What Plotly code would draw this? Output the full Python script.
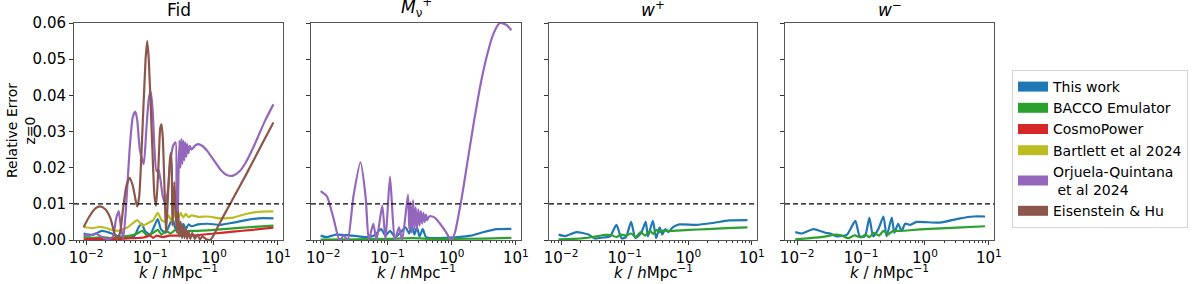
import plotly.graph_objects as go

# ---------------- data (log10 k, relative error) ----------------
PANEL_TITLES = ["Fid", "<i>M</i><sub>ν</sub><sup>+</sup>", "<i>w</i><sup>+</sup>", "<i>w</i><sup>−</sup>"]
SERIES_NAMES = ["This work", "BACCO Emulator", "CosmoPower", "Bartlett et al 2024",
                "Orjuela-Quintana<br> et al 2024", "Eisenstein & Hu"]
SERIES_COLORS = ["#1f77b4", "#2ca02c", "#d62728", "#bcbd22", "#9467bd", "#8c564b"]
THRESHOLD = 0.01
X_TITLE = "<i>k</i> / <i>h</i>Mpc<sup>−1</sup>"
Y_TITLE = "Relative Error<br>z=0"

# Panel 1: Fid
FID_THIS_LOGK = [-2.04, -1.9, -1.75, -1.6, -1.5, -1.4, -1.3, -1.25, -1.18, -1.13, -1.08, -1.0, -0.93, -0.88, -0.83,
                 -0.76, -0.7, -0.65, -0.6, -0.56, -0.52, -0.48, -0.44, -0.4, -0.35, -0.25, -0.1, 0.1, 0.3, 0.5, 0.7, 0.93]
FID_THIS = [0.0018, 0.0014, 0.0025, 0.0018, 0.001, 0.0008, 0.0012, 0.001, 0.0035, 0.0045, 0.0025, 0.0015, 0.004, 0.0058,
            0.003, 0.002, 0.004, 0.006, 0.003, 0.005, 0.0028, 0.0045, 0.003, 0.0043, 0.0038, 0.0043, 0.0045, 0.0042,
            0.0048, 0.0055, 0.006, 0.006]
FID_BACCO_LOGK = [-2.04, -1.9, -1.75, -1.6, -1.5, -1.4, -1.3, -1.2, -1.12, -1.05, -0.95, -0.88, -0.82, -0.75, -0.68,
                  -0.6, -0.55, -0.5, -0.45, -0.4, -0.3, 0.0, 0.3, 0.6, 0.93]
FID_BACCO = [0.0008, 0.0006, 0.0008, 0.0005, 0.0007, 0.001, 0.0012, 0.0018, 0.0025, 0.0013, 0.002, 0.0028, 0.0015,
             0.0025, 0.0018, 0.0028, 0.0018, 0.0027, 0.002, 0.0025, 0.0025, 0.0028, 0.0032, 0.0036, 0.004]
FID_COSMOPOWER_LOGK = [-2.04, -1.8, -1.5, -1.3, -1.1, -1.0, -0.95, -0.9, -0.8, -0.7, -0.5, -0.3, 0.0, 0.3, 0.6, 0.93]
FID_COSMOPOWER = [0.0002, 0.0003, 0.0003, 0.0005, 0.0007, 0.0012, 0.0006, 0.0012, 0.0008, 0.0012, 0.0012, 0.0013,
                  0.0018, 0.0023, 0.0028, 0.0034]
FID_BARTLETT_LOGK = [-2.04, -1.9, -1.8, -1.7, -1.6, -1.5, -1.42, -1.35, -1.28, -1.2, -1.12, -1.05, -0.95, -0.88, -0.82,
                     -0.76, -0.71, -0.66, -0.6, -0.56, -0.52, -0.48, -0.44, -0.4, -0.35, -0.25, -0.1, 0.1, 0.3, 0.5,
                     0.7, 0.93]
FID_BARTLETT = [0.0036, 0.0033, 0.0036, 0.0034, 0.0028, 0.0025, 0.003, 0.0035, 0.0045, 0.0055, 0.004, 0.0045, 0.0055,
                0.0075, 0.0055, 0.005, 0.0068, 0.005, 0.008, 0.006, 0.0075, 0.0062, 0.0072, 0.0063, 0.0068, 0.0064,
                0.0065, 0.006, 0.0062, 0.0072, 0.0078, 0.0079]
FID_ORJUELA_LOGK = [-2.04, -1.95, -1.85, -1.75, -1.65, -1.58, -1.53, -1.49, -1.46, -1.42, -1.38, -1.32, -1.27, -1.23,
                    -1.2, -1.16, -1.1, -1.06, -1.02, -0.99, -0.96, -0.93, -0.9, -0.87, -0.84, -0.8, -0.76, -0.72,
                    -0.68, -0.64, -0.6, -0.585, -0.57, -0.555, -0.54, -0.525, -0.51, -0.495, -0.48, -0.465, -0.45,
                    -0.435, -0.42, -0.4, -0.38, -0.35, -0.3, -0.25, -0.18, -0.1, 0.0, 0.1, 0.2, 0.3, 0.4, 0.5, 0.6,
                    0.7, 0.8, 0.93]
FID_ORJUELA = [0.0015, 0.0012, 0.0018, 0.0008, 0.0002, 0.001, 0.006, 0.008, 0.004, 0.0005, 0.008, 0.025, 0.034,
               0.0355, 0.033, 0.025, 0.021, 0.03, 0.039, 0.041, 0.036, 0.025, 0.019, 0.0195, 0.017, 0.012, 0.01,
               0.014, 0.022, 0.026, 0.027, 0.015, 0.003, 0.018, 0.0275, 0.02, 0.028, 0.021, 0.0275, 0.022, 0.027,
               0.023, 0.0265, 0.024, 0.026, 0.025, 0.026, 0.0265, 0.026, 0.0245, 0.022, 0.0195, 0.018, 0.0178,
               0.019, 0.0215, 0.025, 0.029, 0.033, 0.0375]
FID_EH_LOGK = [-2.04, -1.95, -1.85, -1.78, -1.7, -1.62, -1.56, -1.52, -1.47, -1.42, -1.37, -1.32, -1.27, -1.22, -1.2,
               -1.17, -1.12, -1.07, -1.045, -1.02, -0.97, -0.93, -0.905, -0.87, -0.84, -0.82, -0.8, -0.77, -0.75,
               -0.72, -0.69, -0.675, -0.66, -0.65, -0.62, -0.6, -0.58, -0.56, -0.54, -0.52, -0.5, -0.48, -0.46,
               -0.44, -0.42, -0.4, -0.37, -0.34, -0.3, -0.26, -0.22, -0.18, -0.12, -0.06, 0.0, 0.1, 0.25, 0.5, 0.75,
               0.93]
FID_EH = [0.0035, 0.0065, 0.0088, 0.0093, 0.0085, 0.006, 0.002, 0.0002, 0.002, 0.009, 0.015, 0.0172, 0.015, 0.0105,
          0.0093, 0.012, 0.03, 0.05, 0.055, 0.05, 0.028, 0.012, 0.0095, 0.02, 0.031, 0.032, 0.028, 0.012, 0.002,
          0.012, 0.022, 0.024, 0.02, 0.004, 0.016, 0.008, 0.002, 0.008, 0.001, 0.005, 0.0005, 0.004, 0.0005, 0.003,
          0.0003, 0.0025, 0.0003, 0.002, 0.0003, 0.0015, 0.0002, 0.001, 0.0002, 0.0, 0.0015, 0.005, 0.0099, 0.018,
          0.0265, 0.0325]

# Panel 2: M_nu+
MNU_THIS_LOGK = [-2.04, -1.95, -1.8, -1.6, -1.45, -1.3, -1.2, -1.1, -1.03, -0.96, -0.88, -0.8, -0.72, -0.66, -0.62,
                 -0.58, -0.54, -0.5, -0.45, -0.4, -0.3, -0.1, 0.1, 0.3, 0.5, 0.7, 0.93]
MNU_THIS = [0.0012, 0.0008, 0.0015, 0.0013, 0.001, 0.0008, 0.0013, 0.003, 0.0012, 0.0025, 0.0008, 0.002, 0.0035,
            0.0018, 0.004, 0.0015, 0.0035, 0.001, 0.003, 0.0008, 0.0005, 0.0006, 0.0008, 0.0012, 0.0022, 0.003,
            0.0031]
MNU_BACCO_LOGK = [-2.04, -1.5, -1.0, -0.6, -0.3, 0.0, 0.5, 0.93]
MNU_BACCO = [0.0001, 0.0002, 0.0003, 0.0005, 0.0003, 0.0003, 0.0004, 0.0006]
MNU_ORJUELA_LOGK = [-2.04, -1.94, -1.84, -1.745, -1.68, -1.62, -1.53, -1.42, -1.34, -1.29, -1.22, -1.17, -1.08,
                    -1.03, -0.96, -0.885, -0.82, -0.77, -0.68, -0.66, -0.64, -0.62, -0.6, -0.58, -0.56, -0.54, -0.52,
                    -0.5, -0.48, -0.46, -0.44, -0.42, -0.4, -0.38, -0.35, -0.3, -0.25, -0.18, -0.1, -0.03, 0.0, 0.05,
                    0.15, 0.25, 0.35, 0.45, 0.55, 0.65, 0.75, 0.85, 0.93]
MNU_ORJUELA = [0.0135, 0.012, 0.006, 0.0, 0.0012, 0.0, 0.012, 0.0215, 0.012, 0.0, 0.0045, 0.0, 0.0095, 0.0, 0.0175,
               0.0, 0.0035, 0.0, 0.0125, 0.003, 0.0105, 0.002, 0.011, 0.003, 0.009, 0.003, 0.0085, 0.004, 0.008,
               0.0045, 0.0075, 0.005, 0.007, 0.0055, 0.0065, 0.0065, 0.006, 0.0045, 0.0025, 0.0005, 0.0, 0.002,
               0.011, 0.022, 0.033, 0.043, 0.051, 0.057, 0.06, 0.0595, 0.058]

# Panel 3: w+
WP_THIS_LOGK = [-2.04, -1.94, -1.755, -1.57, -1.47, -1.34, -1.23, -1.13, -1.05, -0.98, -0.9, -0.83, -0.74, -0.67,
                -0.635, -0.557, -0.505, -0.45, -0.41, -0.36, -0.31, -0.245, -0.14, 0.12, 0.38, 0.64, 0.93]
WP_THIS = [0.0015, 0.0011, 0.0022, 0.0015, 0.0004, 0.0007, 0.001, 0.0042, 0.0005, 0.0008, 0.005, 0.0005, 0.002,
           0.005, 0.001, 0.0053, 0.0005, 0.0035, 0.0015, 0.003, 0.0022, 0.0035, 0.0043, 0.0042, 0.0047, 0.0054,
           0.0055]
WP_BACCO_LOGK = [-2.04, -1.8, -1.6, -1.45, -1.3, -1.2, -1.13, -1.05, -0.98, -0.9, -0.83, -0.75, -0.68, -0.6, -0.55,
                 -0.5, -0.45, -0.4, -0.3, 0.0, 0.3, 0.6, 0.93]
WP_BACCO = [0.0002, 0.0003, 0.0006, 0.001, 0.0014, 0.0013, 0.0008, 0.0015, 0.0012, 0.0018, 0.0008, 0.0022, 0.0012,
            0.0025, 0.0017, 0.0028, 0.0022, 0.0026, 0.0025, 0.0028, 0.003, 0.0033, 0.0035]

# Panel 4: w-
WM_THIS_LOGK = [-2.03, -1.93, -1.745, -1.56, -1.48, -1.38, -1.22, -1.09, -1.02, -0.94, -0.87, -0.81, -0.73, -0.65,
                -0.6, -0.52, -0.48, -0.42, -0.365, -0.31, -0.23, -0.13, 0.23, 0.55, 0.76, 0.94]
WM_THIS = [0.0022, 0.0018, 0.003, 0.002, 0.0018, 0.001, 0.0015, 0.0053, 0.001, 0.001, 0.0061, 0.001, 0.003, 0.0065,
           0.001, 0.0062, 0.002, 0.0045, 0.0025, 0.0045, 0.0042, 0.005, 0.0048, 0.006, 0.0065, 0.0065]
WM_BACCO_LOGK = [-2.03, -1.8, -1.55, -1.4, -1.3, -1.2, -1.1, -1.0, -0.93, -0.87, -0.8, -0.72, -0.65, -0.58, -0.5,
                 -0.4, 0.0, 0.5, 0.94]
WM_BACCO = [0.0002, 0.0005, 0.001, 0.0015, 0.0012, 0.0005, 0.0013, 0.0007, 0.0015, 0.0008, 0.002, 0.0012, 0.0025,
            0.0015, 0.0025, 0.0025, 0.003, 0.0034, 0.0038]

X_TICKS = [0.01, 0.1, 1, 10]
X_TICK_TEXT = ["10<sup>−2</sup>", "10<sup>−1</sup>", "10<sup>0</sup>", "10<sup>1</sup>"]
Y_TICKS = [0.0, 0.01, 0.02, 0.03, 0.04, 0.05, 0.06]
Y_TICK_TEXT = ["0.00", "0.01", "0.02", "0.03", "0.04", "0.05", "0.06"]

# series index -> (panel, logk, values)
PANEL_SERIES = [
    [(0, FID_THIS_LOGK, FID_THIS), (1, FID_BACCO_LOGK, FID_BACCO), (2, FID_COSMOPOWER_LOGK, FID_COSMOPOWER),
     (3, FID_BARTLETT_LOGK, FID_BARTLETT), (4, FID_ORJUELA_LOGK, FID_ORJUELA), (5, FID_EH_LOGK, FID_EH)],
    [(0, MNU_THIS_LOGK, MNU_THIS), (1, MNU_BACCO_LOGK, MNU_BACCO), (4, MNU_ORJUELA_LOGK, MNU_ORJUELA)],
    [(0, WP_THIS_LOGK, WP_THIS), (1, WP_BACCO_LOGK, WP_BACCO)],
    [(0, WM_THIS_LOGK, WM_THIS), (1, WM_BACCO_LOGK, WM_BACCO)],
]

# ---------------- layout geometry ----------------
W, H = 1200, 284
PANEL_X = [(74, 283), (311, 521), (549, 757), (785, 994)]
PLOT_TOP, PLOT_BOTTOM = 23, 240
FONT = "DejaVu Sans"

fig = go.Figure()
layout = dict(
    width=W, height=H, margin=dict(l=0, r=0, t=0, b=0, autoexpand=False),
    paper_bgcolor="white", plot_bgcolor="white",
    font=dict(family=FONT, size=15, color="black"),
    showlegend=True,
)

minor_vals = [m * 10 ** e for e in range(-3, 2) for m in range(2, 10)]
ydom = [1 - PLOT_BOTTOM / H, 1 - PLOT_TOP / H]
annotations = []
shapes = []
for p, (x0, x1) in enumerate(PANEL_X):
    xa = "xaxis" if p == 0 else f"xaxis{p + 1}"
    ya = "yaxis" if p == 0 else f"yaxis{p + 1}"
    xr = "x" if p == 0 else f"x{p + 1}"
    yr = "y" if p == 0 else f"y{p + 1}"
    layout[xa] = dict(
        domain=[x0 / W, x1 / W], anchor=yr, type="log", range=[-2.19, 1.08], automargin=False,
        tickvals=X_TICKS, ticktext=X_TICK_TEXT, ticks="outside", ticklen=4, tickcolor="#333",
        showline=True, linecolor="#555", linewidth=1, mirror=True, showgrid=False, zeroline=False,
        tickfont=dict(size=15, family=FONT),
        minor=dict(ticks="outside", ticklen=2, tickcolor="#333", tickvals=minor_vals, showgrid=False),
    )
    layout[ya] = dict(
        domain=ydom, anchor=xr, range=[0, 0.06], tickvals=Y_TICKS, ticktext=Y_TICK_TEXT, automargin=False,
        showticklabels=(p == 0), ticks="outside", ticklen=4, tickcolor="#333",
        showline=True, linecolor="#555", linewidth=1, mirror=True, showgrid=False, zeroline=False,
        tickfont=dict(size=15, family=FONT),
    )
    annotations.append(dict(
        text=PANEL_TITLES[p], xref="paper", yref="paper", x=(x0 + x1) / 2 / W, y=1 - (PLOT_TOP - 1) / H,
        xanchor="center", yanchor="bottom", showarrow=False, font=dict(size=17, family=FONT),
    ))
    annotations.append(dict(
        text=X_TITLE, xref="paper", yref="paper", x=(x0 + x1) / 2 / W, y=1 - 272 / H,
        xanchor="center", yanchor="middle", showarrow=False, font=dict(size=15, family=FONT),
    ))
    shapes.append(dict(type="line", xref=f"{xr} domain", yref=yr, x0=0, x1=1, y0=THRESHOLD, y1=THRESHOLD,
                       line=dict(color="black", width=1.2, dash="5px,3px")))
    for (s, logk, vals) in PANEL_SERIES[p]:
        fig.add_trace(go.Scatter(
            x=[10 ** v for v in logk], y=vals, mode="lines", xaxis=xr, yaxis=yr,
            line=dict(color=SERIES_COLORS[s], width=2.2, shape="spline", smoothing=0.6),
            showlegend=False, hoverinfo="skip",
        ))

annotations.append(dict(
    text=Y_TITLE, xref="paper", yref="paper", x=21 / W, y=1 - 131 / H,
    xanchor="center", yanchor="middle", textangle=-90, showarrow=False, font=dict(size=14, family=FONT),
))

# legend entries (patch-like thick lines)
for name, color in zip(SERIES_NAMES, SERIES_COLORS):
    fig.add_trace(go.Scatter(x=[None], y=[None], mode="lines", name=name,
                             line=dict(color=color, width=10), showlegend=True))

layout["legend"] = dict(
    x=1012 / W, y=1 - 70 / H, xanchor="left", yanchor="top",
    bordercolor="#d6d6d6", borderwidth=1, bgcolor="white",
    font=dict(size=14, family=FONT), tracegroupgap=0, itemwidth=30,
)
layout["annotations"] = annotations
layout["shapes"] = shapes
fig.update_layout(**layout)
fig.write_html("out.html", config={"displayModeBar": False},
               post_script="document.body.style.margin='0';")
